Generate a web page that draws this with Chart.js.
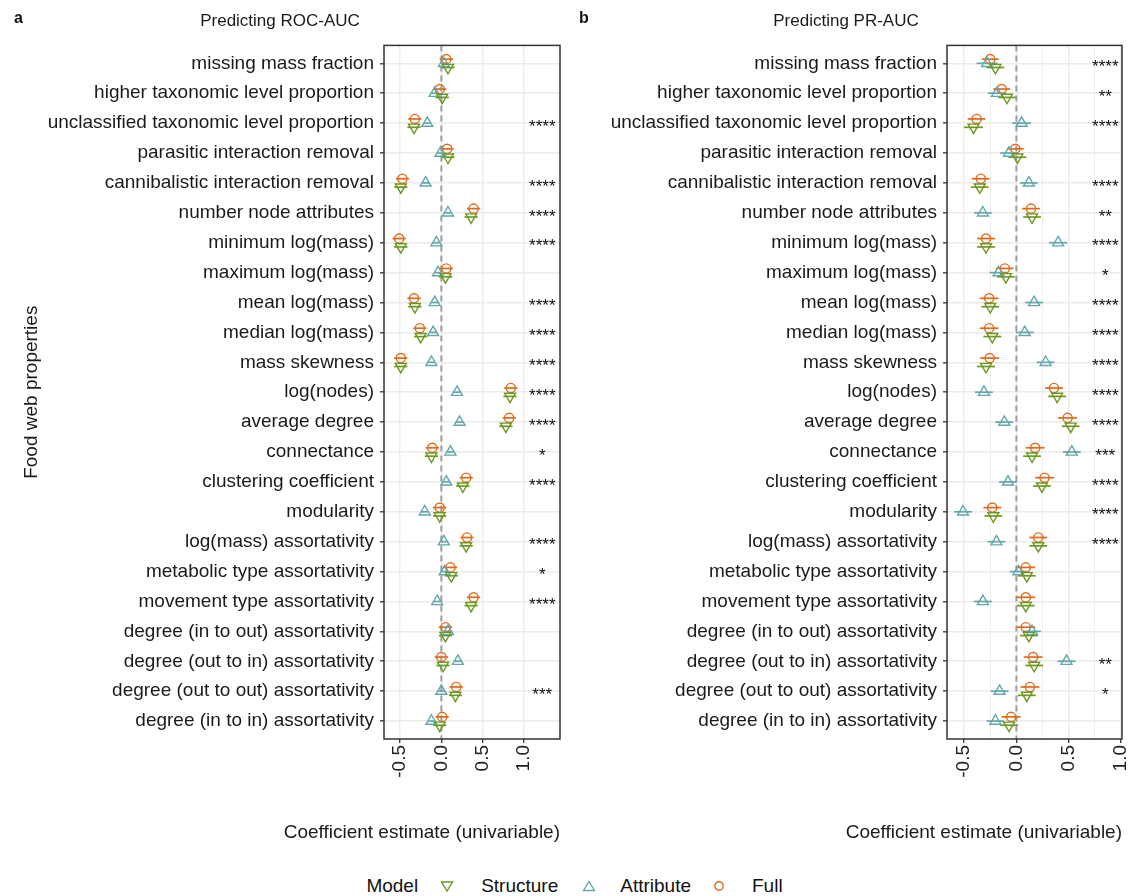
<!DOCTYPE html>
<html>
<head>
<meta charset="utf-8">
<script src="https://cdn.jsdelivr.net/npm/chart.js@4"></script>
<style>
  body { margin: 0; background: #fff; font-family: "Liberation Sans", Arial, sans-serif; }
  #wrap { position: relative; width: 1133px; height: 896px; }
  .panel { position: absolute; top: 0; height: 850px; }
  .tag { position: absolute; top: 9px; font-weight: bold; font-size: 16px; color: #111; }
  #legend { position: absolute; left: 8px; width: 1133px; top: 875px; display: flex; justify-content: center; align-items: center; font-size: 19px; color: #111; }
  #legend svg { margin: 0 27px 0 22px; }
</style>
</head>
<body>
<div id="wrap">
  <div class="panel" style="left:0;width:570px"><canvas id="roc"></canvas></div>
  <div class="panel" style="left:570px;width:563px"><canvas id="pr"></canvas></div>
  <div class="tag" style="left:14px">a</div>
  <div class="tag" style="left:579px">b</div>
  <div id="legend">
    <span>Model</span>
    <svg width="14" height="12"><polygon points="1.5,2 12.5,2 7,11" fill="none" stroke="#6b991f" stroke-width="1.4"/></svg>
    <span>Structure</span>
    <svg width="14" height="12" style="margin-left:24px;margin-right:24px"><polygon points="1.5,10.5 12.5,10.5 7,1.5" fill="none" stroke="#63a7ad" stroke-width="1.4"/></svg>
    <span>Attribute</span>
    <svg width="12" height="12" style="margin-left:22px"><circle cx="6" cy="6" r="4.2" fill="none" stroke="#e0691a" stroke-width="1.4"/></svg>
    <span>Full</span>
  </div>
</div>
<script>
const properties = [
  "missing mass fraction", "higher taxonomic level proportion",
  "unclassified taxonomic level proportion", "parasitic interaction removal",
  "cannibalistic interaction removal", "number node attributes",
  "minimum log(mass)", "maximum log(mass)", "mean log(mass)", "median log(mass)",
  "mass skewness", "log(nodes)", "average degree", "connectance",
  "clustering coefficient", "modularity", "log(mass) assortativity",
  "metabolic type assortativity", "movement type assortativity",
  "degree (in to out) assortativity", "degree (out to in) assortativity",
  "degree (out to out) assortativity", "degree (in to in) assortativity"
];

// ROC-AUC coefficient estimates
const rocStructure = [0.08, 0.01, -0.33, 0.08, -0.49, 0.36, -0.49, 0.05, -0.32, -0.25, -0.49, 0.83, 0.78, -0.12, 0.26, -0.02, 0.30, 0.12, 0.36, 0.05, 0.02, 0.17, -0.02];
const rocAttribute = [0.03, -0.08, -0.17, -0.01, -0.19, 0.08, -0.06, -0.04, -0.08, -0.10, -0.12, 0.19, 0.22, 0.11, 0.06, -0.20, 0.03, 0.04, -0.05, 0.08, 0.20, 0.00, -0.12];
const rocFull = [0.06, -0.02, -0.32, 0.07, -0.47, 0.39, -0.51, 0.06, -0.33, -0.26, -0.49, 0.84, 0.82, -0.11, 0.30, -0.02, 0.31, 0.11, 0.39, 0.05, 0.00, 0.18, 0.01];
const rocStructureErr = [0.08, 0.08, 0.08, 0.08, 0.08, 0.08, 0.08, 0.08, 0.08, 0.08, 0.08, 0.08, 0.08, 0.08, 0.08, 0.08, 0.08, 0.08, 0.08, 0.08, 0.08, 0.08, 0.08];
const rocAttributeErr = [0.04, 0.04, 0.04, 0.04, 0.04, 0.04, 0.04, 0.04, 0.04, 0.04, 0.04, 0.04, 0.04, 0.04, 0.04, 0.04, 0.04, 0.04, 0.04, 0.04, 0.04, 0.04, 0.04];
const rocFullErr = [0.08, 0.08, 0.08, 0.08, 0.08, 0.08, 0.08, 0.08, 0.08, 0.08, 0.08, 0.08, 0.08, 0.08, 0.08, 0.08, 0.08, 0.08, 0.08, 0.08, 0.08, 0.08, 0.08];
const rocStars = ["", "", "****", "", "****", "****", "****", "", "****", "****", "****", "****", "****", "*", "****", "", "****", "*", "****", "", "", "***", ""];

// PR-AUC coefficient estimates
const prStructure = [-0.20, -0.09, -0.41, 0.01, -0.35, 0.15, -0.29, -0.10, -0.25, -0.23, -0.29, 0.39, 0.52, 0.15, 0.245, -0.22, 0.21, 0.10, 0.09, 0.12, 0.17, 0.10, -0.07];
const prAttribute = [-0.28, -0.185, 0.05, -0.07, 0.12, -0.32, 0.40, -0.17, 0.17, 0.08, 0.28, -0.31, -0.115, 0.53, -0.08, -0.51, -0.19, 0.02, -0.32, 0.15, 0.48, -0.16, -0.20];
const prFull = [-0.25, -0.14, -0.38, -0.01, -0.34, 0.14, -0.29, -0.11, -0.26, -0.26, -0.255, 0.36, 0.49, 0.18, 0.27, -0.23, 0.21, 0.09, 0.09, 0.09, 0.16, 0.13, -0.05];
const prStructureErr = [0.085, 0.085, 0.09, 0.085, 0.085, 0.085, 0.085, 0.085, 0.085, 0.085, 0.085, 0.085, 0.085, 0.085, 0.085, 0.085, 0.085, 0.085, 0.085, 0.085, 0.085, 0.085, 0.085];
const prAttributeErr = [0.1, 0.085, 0.09, 0.085, 0.085, 0.085, 0.085, 0.085, 0.085, 0.085, 0.085, 0.085, 0.085, 0.085, 0.085, 0.085, 0.085, 0.085, 0.085, 0.085, 0.085, 0.085, 0.085];
const prFullErr = [0.08, 0.08, 0.085, 0.08, 0.085, 0.085, 0.085, 0.085, 0.09, 0.09, 0.09, 0.085, 0.09, 0.09, 0.09, 0.085, 0.085, 0.09, 0.09, 0.09, 0.09, 0.09, 0.09];
const prStars = ["****", "**", "****", "", "****", "**", "****", "*", "****", "****", "****", "****", "****", "***", "****", "****", "****", "", "", "", "**", "*", ""];

const xTicksRoc = [-0.5, -0.25, 0, 0.25, 0.5, 0.75, 1, 1.25];
const xTicksPr = [-0.5, -0.25, 0, 0.25, 0.5, 0.75, 1];

const FONT = '"Liberation Sans", Arial, sans-serif';
const colStructure = '#6b991f', colAttribute = '#63a7ad', colFull = '#e0691a';

const isMajor = v => Math.abs(v * 2 - Math.round(v * 2)) < 1e-6;

const panelDecor = {
  id: 'panelDecor',
  beforeDatasetsDraw(chart) {
    const { ctx, chartArea: a, scales: { x, y } } = chart;
    ctx.save();
    ctx.strokeStyle = '#9e9e9e';
    ctx.lineWidth = 2;
    ctx.setLineDash([6, 4]);
    const x0 = x.getPixelForValue(0);
    ctx.beginPath(); ctx.moveTo(x0, a.top); ctx.lineTo(x0, a.bottom); ctx.stroke();
    ctx.setLineDash([]);
    chart.data.datasets.forEach(ds => {
      ctx.strokeStyle = ds.borderColor;
      ctx.lineWidth = 1.7;
      ds.data.forEach((p, i) => {
        const py = y.getPixelForValue(p.y);
        ctx.beginPath();
        ctx.moveTo(x.getPixelForValue(p.x - ds.err[i]), py);
        ctx.lineTo(x.getPixelForValue(p.x + ds.err[i]), py);
        ctx.stroke();
      });
    });
    ctx.restore();
  },
  afterDatasetsDraw(chart, args, opts) {
    const { ctx, chartArea: a, scales: { x, y } } = chart;
    ctx.save();
    ctx.fillStyle = '#111';
    ctx.font = '17px ' + FONT;
    ctx.textAlign = 'center';
    ctx.textBaseline = 'middle';
    opts.stars.forEach((s, i) => {
      if (s) ctx.fillText(s, x.getPixelForValue(opts.starX), y.getPixelForValue(i + 1) + 4);
    });
    ctx.strokeStyle = '#333';
    ctx.lineWidth = 1.5;
    ctx.strokeRect(a.left, a.top, a.width, a.height);
    // x axis title, right aligned with the panel
    ctx.fillStyle = '#1a1a1a';
    ctx.font = '19px ' + FONT;
    ctx.textAlign = 'right';
    ctx.fillText('Coefficient estimate (univariable)', a.right, 833);
    ctx.restore();
  }
};

function series(label, values, errs, offset, color, style, rot, radius) {
  return {
    label,
    data: values.map((v, i) => ({ x: v, y: i + 1 + offset })),
    err: errs,
    borderColor: color,
    backgroundColor: 'rgba(0,0,0,0)',
    borderWidth: 1.4,
    pointStyle: style,
    rotation: rot,
    pointRadius: radius,
    showLine: false
  };
}

function makePanel(id, opt) {
  return new Chart(document.getElementById(id), {
    type: 'scatter',
    data: {
      datasets: [
        series('Structure', opt.structure, opt.structureErr, 0.14, colStructure, 'triangle', 180, 6.3),
        series('Attribute', opt.attribute, opt.attributeErr, 0, colAttribute, 'triangle', 0, 6.3),
        series('Full', opt.full, opt.fullErr, -0.14, colFull, 'circle', 0, 4.6)
      ]
    },
    plugins: [panelDecor],
    options: {
      responsive: true,
      maintainAspectRatio: false,
      animation: false,
      events: [],
      layout: { padding: { left: 0, right: opt.padRight, top: 0, bottom: 0 } },
      plugins: {
        legend: { display: false },
        tooltip: { enabled: false },
        title: {
          display: true, text: opt.title, color: '#1a1a1a',
          font: { family: FONT, size: 17, weight: 'normal' },
          padding: { top: 11, bottom: 14 }
        },
        panelDecor: { stars: opt.stars, starX: opt.starX }
      },
      scales: {
        x: {
          type: 'linear', min: opt.xMin, max: opt.xMax,
          afterBuildTicks: s => { s.ticks = opt.xTicks.map(v => ({ value: v })); },
          afterFit: s => { s.height = 111; s.paddingLeft = 0; s.paddingRight = 0; },
          border: { display: false },
          grid: {
            color: '#ebebeb',
            lineWidth: c => isMajor(c.tick.value) ? 1.4 : 0.8,
            tickColor: c => isMajor(c.tick.value) ? '#333' : 'rgba(0,0,0,0)',
            tickLength: 4, tickWidth: 1.3
          },
          ticks: {
            minRotation: 90, maxRotation: 90, padding: 2, color: '#222',
            font: { family: FONT, size: 19 },
            callback: v => isMajor(v) ? v.toFixed(1) : ''
          }
        },
        y: {
          type: 'linear', min: 0.4, max: properties.length + 0.6, reverse: true,
          afterBuildTicks: s => { s.ticks = properties.map((p, i) => ({ value: i + 1 })); },
          afterFit: s => { s.width = opt.yWidth; },
          border: { display: false },
          grid: { color: '#ebebeb', lineWidth: 1.6, tickColor: '#333', tickLength: 4, tickWidth: 1.3 },
          ticks: {
            padding: 6, color: '#1a1a1a', autoSkip: false,
            font: { family: FONT, size: 19 },
            callback: v => properties[Math.round(v) - 1]
          },
          title: {
            display: opt.yTitle, text: 'Food web properties', color: '#1a1a1a',
            font: { family: FONT, size: 19 }, padding: { top: 20, bottom: 0 }
          }
        }
      }
    }
  });
}

makePanel('roc', {
  title: 'Predicting ROC-AUC',
  structure: rocStructure, attribute: rocAttribute, full: rocFull,
  structureErr: rocStructureErr, attributeErr: rocAttributeErr, fullErr: rocFullErr,
  stars: rocStars, starX: 1.22,
  xMin: -0.693, xMax: 1.434, xTicks: xTicksRoc,
  yWidth: 384, padRight: 10, yTitle: true
});

makePanel('pr', {
  title: 'Predicting PR-AUC',
  structure: prStructure, attribute: prAttribute, full: prFull,
  structureErr: prStructureErr, attributeErr: prAttributeErr, fullErr: prFullErr,
  stars: prStars, starX: 0.85,
  xMin: -0.663, xMax: 1.01, xTicks: xTicksPr,
  yWidth: 377, padRight: 11, yTitle: false
});
</script>
</body>
</html>
